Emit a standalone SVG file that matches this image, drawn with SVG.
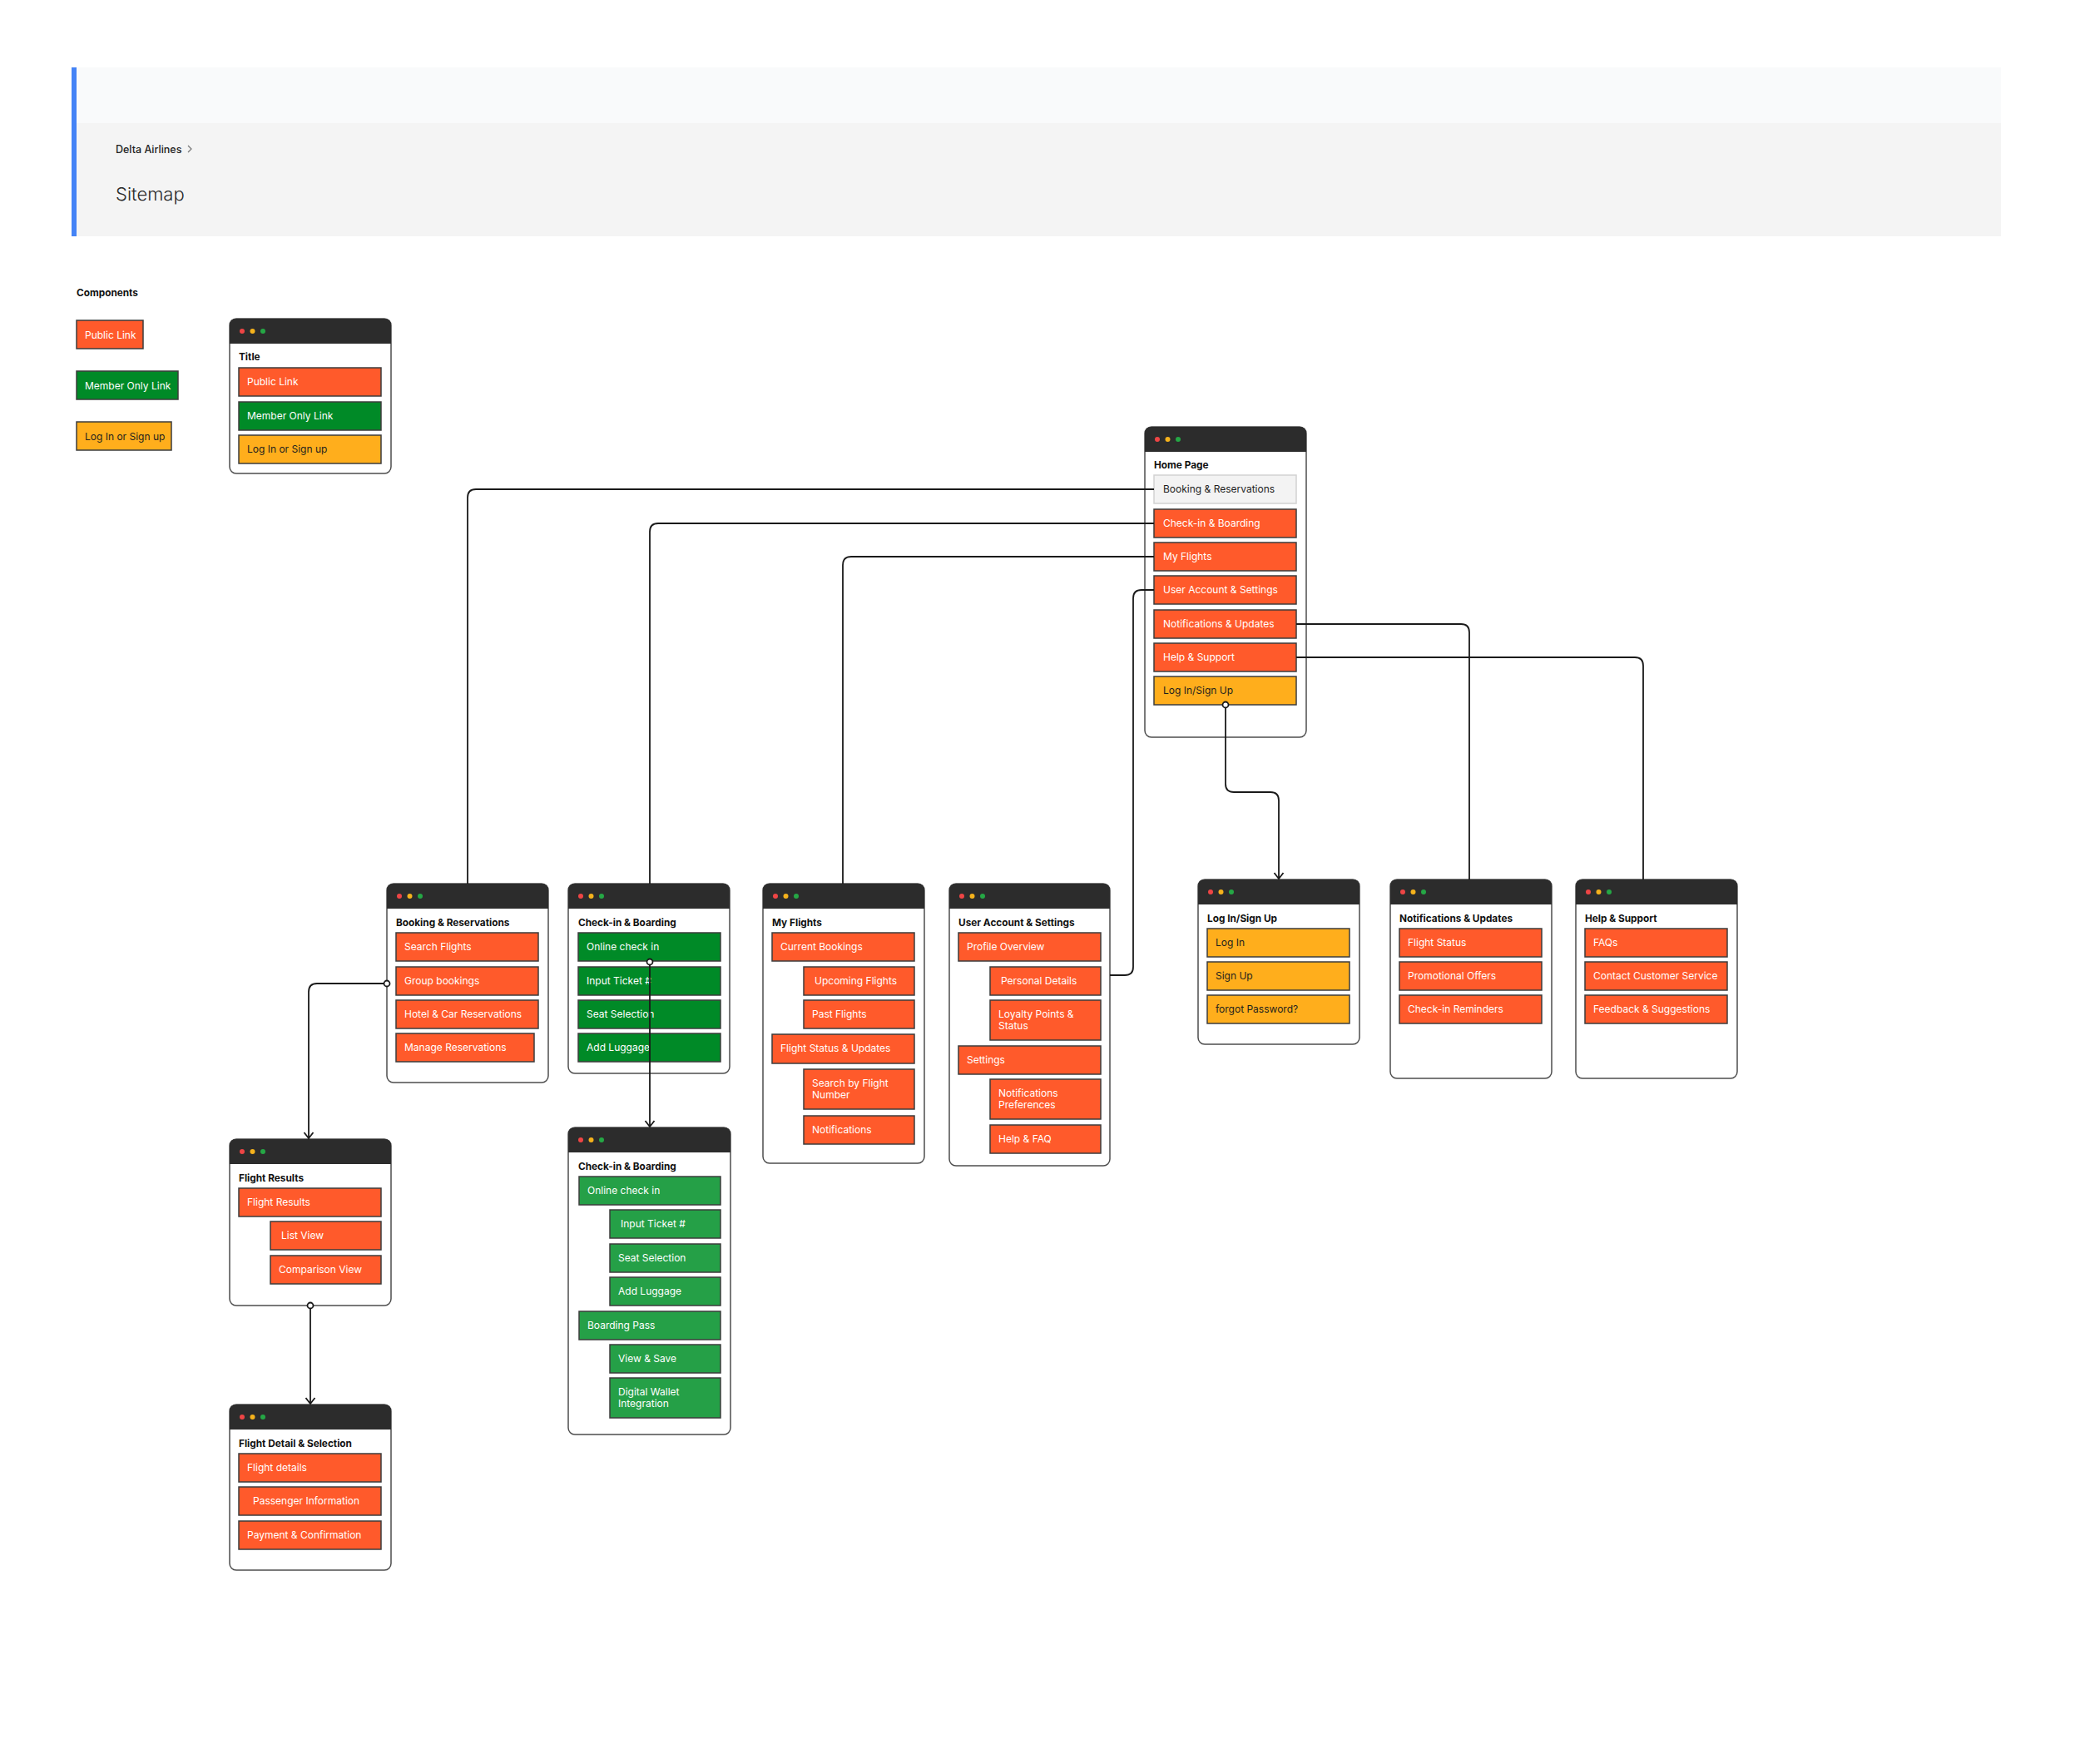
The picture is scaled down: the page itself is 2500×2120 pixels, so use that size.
<svg xmlns="http://www.w3.org/2000/svg" xmlns:xlink="http://www.w3.org/1999/xlink" width="2500" height="2120" viewBox="0 0 2500 2120">
<style>
.win{fill:#fff;stroke:#4d4d4d;stroke-width:1.5}
.hdr{fill:#2c2c2c}
.o{fill:#ff5a2b;stroke:#3c3c3c;stroke-width:1.5}
.g{fill:#008a27;stroke:#3c3c3c;stroke-width:1.5}
.g2{fill:#25a047;stroke:#3c3c3c;stroke-width:1.5}
.y{fill:#ffae1c;stroke:#3c3c3c;stroke-width:1.5}
.gr{fill:#f3f3f3;stroke:#d2d2d2;stroke-width:1.5}
text{font-family:Inter,"Liberation Sans",sans-serif}
.t{font-size:12px;fill:#fff}
.td{font-size:12px;fill:#1e1e1e}
.ttl{font-size:11.8px;font-weight:700;fill:#111}
.c{fill:none;stroke:#1a1a1a;stroke-width:1.8}
.dot{fill:#fff;stroke:#1a1a1a;stroke-width:1.8}
</style>
<defs>
<g id="dots"><circle cx="15" cy="15" r="3" fill="#ee4545"/><circle cx="27.5" cy="15" r="3" fill="#f5b21c"/><circle cx="40" cy="15" r="3" fill="#25a745"/></g>
<path id="hd" class="hdr" d="M0,30 V8 Q0,0 8,0 H186 Q194,0 194,8 V30 Z"/>
<marker id="arr" viewBox="-10 -7 12 14" refX="0" refY="0" markerWidth="12" markerHeight="14" markerUnits="userSpaceOnUse" orient="auto"><path d="M-7,-5.5 L0,0 L-7,5.5" fill="none" stroke="#1a1a1a" stroke-width="1.8"/></marker>
</defs>
<rect width="2500" height="2120" fill="#fff"/>
<!-- Header -->
<g id="header">
<rect x="86" y="81" width="2319" height="67" fill="#f9fafb"/>
<rect x="86" y="148" width="2319" height="136" fill="#f4f4f4"/>
<rect x="86" y="81" width="6" height="203" fill="#4483f6"/>
<text x="139" y="184" font-size="12.5" font-weight="500" fill="#1e1e1e">Delta Airlines</text>
<polyline points="226,175 230,179 226,183" fill="none" stroke="#777" stroke-width="1.2"/>
<text x="139" y="241" font-size="22" font-weight="300" fill="#2a2a2a">Sitemap</text>
</g>
<!-- Legend -->
<g id="legend">
<text x="92" y="356" class="ttl" font-size="11">Components</text>
<rect x="92" y="385" width="80" height="34" class="o"/><text x="102" y="407" class="t">Public Link</text>
<rect x="92" y="446" width="122" height="34" class="g"/><text x="102" y="468" class="t">Member Only Link</text>
<rect x="92" y="507" width="114" height="34" class="y"/><text x="102" y="529" class="td">Log In or Sign up</text>
</g>
<g id="legend-window" transform="translate(276,383)">
<rect width="194" height="186" rx="8" class="win"/><use href="#hd"/><use href="#dots"/>
<text x="11" y="50" class="ttl">Title</text>
<rect x="11" y="59" width="171" height="34" class="o"/><text x="21" y="80" class="t">Public Link</text>
<rect x="11" y="100" width="171" height="34" class="g"/><text x="21" y="121" class="t">Member Only Link</text>
<rect x="11" y="140" width="171" height="34" class="y"/><text x="21" y="161" class="td">Log In or Sign up</text>
</g>
<!-- Home -->
<g id="home" transform="translate(1376,513)">
<rect width="194" height="373" rx="8" class="win"/><use href="#hd"/><use href="#dots"/>
<text x="11" y="50" class="ttl">Home Page</text>
<rect x="11" y="58" width="171" height="34" class="gr"/><text x="22" y="79" class="td">Booking &amp; Reservations</text>
<rect x="11" y="99" width="171" height="34" class="o"/><text x="22" y="120" class="t">Check-in &amp; Boarding</text>
<rect x="11" y="139" width="171" height="34" class="o"/><text x="22" y="160" class="t">My Flights</text>
<rect x="11" y="179" width="171" height="34" class="o"/><text x="22" y="200" class="t">User Account &amp; Settings</text>
<rect x="11" y="220" width="171" height="34" class="o"/><text x="22" y="241" class="t">Notifications &amp; Updates</text>
<rect x="11" y="260" width="171" height="34" class="o"/><text x="22" y="281" class="t">Help &amp; Support</text>
<rect x="11" y="300" width="171" height="34" class="y"/><text x="22" y="321" class="td">Log In/Sign Up</text>
</g>
<!-- Booking -->
<g id="booking" transform="translate(465,1062)">
<rect width="194" height="239" rx="8" class="win"/><use href="#hd"/><use href="#dots"/>
<text x="11" y="51" class="ttl">Booking &amp; Reservations</text>
<rect x="11" y="59" width="171" height="34" class="o"/><text x="21" y="80" class="t">Search Flights</text>
<rect x="11" y="100" width="171" height="34" class="o"/><text x="21" y="121" class="t">Group bookings</text>
<rect x="11" y="140" width="171" height="34" class="o"/><text x="21" y="161" class="t">Hotel &amp; Car Reservations</text>
<rect x="11" y="180" width="166" height="34" class="o"/><text x="21" y="201" class="t">Manage Reservations</text>
</g>
<!-- Check-in 1 -->
<g id="checkin" transform="translate(683,1062)">
<rect width="194" height="228" rx="8" class="win"/><use href="#hd"/><use href="#dots"/>
<text x="12" y="51" class="ttl">Check-in &amp; Boarding</text>
<rect x="12" y="59" width="171" height="34" class="g"/><text x="22" y="80" class="t">Online check in</text>
<rect x="12" y="100" width="171" height="34" class="g"/><text x="22" y="121" class="t">Input Ticket #</text>
<rect x="12" y="140" width="171" height="34" class="g"/><text x="22" y="161" class="t">Seat Selection</text>
<rect x="12" y="180" width="171" height="34" class="g"/><text x="22" y="201" class="t">Add Luggage</text>
</g>
<!-- My Flights -->
<g id="myflights" transform="translate(917,1062)">
<rect width="194" height="336" rx="8" class="win"/><use href="#hd"/><use href="#dots"/>
<text x="11" y="51" class="ttl">My Flights</text>
<rect x="11" y="59" width="171" height="34" class="o"/><text x="21" y="80" class="t">Current Bookings</text>
<rect x="49" y="100" width="133" height="34" class="o"/><text x="62" y="121" class="t">Upcoming Flights</text>
<rect x="49" y="140" width="133" height="34" class="o"/><text x="59" y="161" class="t">Past Flights</text>
<rect x="11" y="181" width="171" height="35" class="o"/><text x="21" y="202" class="t">Flight Status &amp; Updates</text>
<rect x="49" y="223" width="133" height="48" class="o"/><text x="59" y="244" class="t">Search by Flight</text><text x="59" y="258" class="t">Number</text>
<rect x="49" y="279" width="133" height="34" class="o"/><text x="59" y="300" class="t">Notifications</text>
</g>
<!-- User Account -->
<g id="useraccount" transform="translate(1141,1062)">
<rect width="193" height="339" rx="8" class="win"/><path class="hdr" d="M0,30 V8 Q0,0 8,0 H185 Q193,0 193,8 V30 Z"/><use href="#dots"/>
<text x="11" y="51" class="ttl">User Account &amp; Settings</text>
<rect x="11" y="59" width="171" height="34" class="o"/><text x="21" y="80" class="t">Profile Overview</text>
<rect x="49" y="100" width="133" height="34" class="o"/><text x="62" y="121" class="t">Personal Details</text>
<rect x="49" y="140" width="133" height="48" class="o"/><text x="59" y="161" class="t">Loyalty Points &amp;</text><text x="59" y="175" class="t">Status</text>
<rect x="11" y="195" width="171" height="34" class="o"/><text x="21" y="216" class="t">Settings</text>
<rect x="49" y="235" width="133" height="48" class="o"/><text x="59" y="256" class="t">Notifications</text><text x="59" y="270" class="t">Preferences</text>
<rect x="49" y="290" width="133" height="34" class="o"/><text x="59" y="311" class="t">Help &amp; FAQ</text>
</g>
<!-- Log In -->
<g id="login" transform="translate(1440,1057)">
<rect width="194" height="198" rx="8" class="win"/><use href="#hd"/><use href="#dots"/>
<text x="11" y="51" class="ttl">Log In/Sign Up</text>
<rect x="11" y="59" width="171" height="34" class="y"/><text x="21" y="80" class="td">Log In</text>
<rect x="11" y="99" width="171" height="34" class="y"/><text x="21" y="120" class="td">Sign Up</text>
<rect x="11" y="139" width="171" height="34" class="y"/><text x="21" y="160" class="td">forgot Password?</text>
</g>
<!-- Notifications -->
<g id="notifications" transform="translate(1671,1057)">
<rect width="194" height="239" rx="8" class="win"/><use href="#hd"/><use href="#dots"/>
<text x="11" y="51" class="ttl">Notifications &amp; Updates</text>
<rect x="11" y="59" width="171" height="34" class="o"/><text x="21" y="80" class="t">Flight Status</text>
<rect x="11" y="99" width="171" height="34" class="o"/><text x="21" y="120" class="t">Promotional Offers</text>
<rect x="11" y="139" width="171" height="34" class="o"/><text x="21" y="160" class="t">Check-in Reminders</text>
</g>
<!-- Help -->
<g id="help" transform="translate(1894,1057)">
<rect width="194" height="239" rx="8" class="win"/><use href="#hd"/><use href="#dots"/>
<text x="11" y="51" class="ttl">Help &amp; Support</text>
<rect x="11" y="59" width="171" height="34" class="o"/><text x="21" y="80" class="t">FAQs</text>
<rect x="11" y="99" width="171" height="34" class="o"/><text x="21" y="120" class="t">Contact Customer Service</text>
<rect x="11" y="139" width="171" height="34" class="o"/><text x="21" y="160" class="t">Feedback &amp; Suggestions</text>
</g>
<!-- Flight Results -->
<g id="flightresults" transform="translate(276,1369)">
<rect width="194" height="200" rx="8" class="win"/><use href="#hd"/><use href="#dots"/>
<text x="11" y="51" class="ttl">Flight Results</text>
<rect x="11" y="59" width="171" height="34" class="o"/><text x="21" y="80" class="t">Flight Results</text>
<rect x="49" y="99" width="133" height="34" class="o"/><text x="62" y="120" class="t">List View</text>
<rect x="49" y="140" width="133" height="34" class="o"/><text x="59" y="161" class="t">Comparison View</text>
</g>
<!-- Flight Detail -->
<g id="flightdetail" transform="translate(276,1688)">
<rect width="194" height="199" rx="8" class="win"/><use href="#hd"/><use href="#dots"/>
<text x="11" y="51" class="ttl">Flight Detail &amp; Selection</text>
<rect x="11" y="59" width="171" height="34" class="o"/><text x="21" y="80" class="t">Flight details</text>
<rect x="11" y="99" width="171" height="34" class="o"/><text x="28" y="120" class="t">Passenger Information</text>
<rect x="11" y="140" width="171" height="34" class="o"/><text x="21" y="161" class="t">Payment &amp; Confirmation</text>
</g>
<!-- Check-in 2 -->
<g id="checkin2" transform="translate(683,1355)">
<rect width="195" height="369" rx="8" class="win"/><path class="hdr" d="M0,30 V8 Q0,0 8,0 H187 Q195,0 195,8 V30 Z"/><use href="#dots"/>
<text x="12" y="51" class="ttl">Check-in &amp; Boarding</text>
<rect x="13" y="59" width="170" height="34" class="g2"/><text x="23" y="80" class="t">Online check in</text>
<rect x="50" y="99" width="133" height="34" class="g2"/><text x="63" y="120" class="t">Input Ticket #</text>
<rect x="50" y="140" width="133" height="34" class="g2"/><text x="60" y="161" class="t">Seat Selection</text>
<rect x="50" y="180" width="133" height="34" class="g2"/><text x="60" y="201" class="t">Add Luggage</text>
<rect x="13" y="221" width="170" height="34" class="g2"/><text x="23" y="242" class="t">Boarding Pass</text>
<rect x="50" y="261" width="133" height="34" class="g2"/><text x="60" y="282" class="t">View &amp; Save</text>
<rect x="50" y="301" width="133" height="48" class="g2"/><text x="60" y="322" class="t">Digital Wallet</text><text x="60" y="336" class="t">Integration</text>
</g>
<!-- Connectors -->
<g id="connectors">
<path class="c" d="M1387,588 H572 Q562,588 562,598 V1062"/>
<path class="c" d="M1387,629 H791 Q781,629 781,639 V1062"/>
<path class="c" d="M1387,669 H1023 Q1013,669 1013,679 V1062"/>
<path class="c" d="M1387,709 H1372 Q1362,709 1362,719 V1162 Q1362,1172 1352,1172 H1334"/>
<path class="c" d="M1558,750 H1756 Q1766,750 1766,760 V1057"/>
<path class="c" d="M1558,790 H1965 Q1975,790 1975,800 V1057"/>
<path class="c" d="M1473,847 V942 Q1473,952 1483,952 H1527 Q1537,952 1537,962 V1056" marker-end="url(#arr)"/>
<circle class="dot" cx="1473" cy="847" r="3.5"/>
<path class="c" d="M465,1182 H381 Q371,1182 371,1192 V1368" marker-end="url(#arr)"/>
<circle class="dot" cx="465" cy="1182" r="3.5"/>
<path class="c" d="M373,1569 V1687" marker-end="url(#arr)"/>
<circle class="dot" cx="373" cy="1569" r="3.5"/>
<path class="c" d="M781,1156 V1354" marker-end="url(#arr)"/>
<circle class="dot" cx="781" cy="1156" r="3.5"/>
</g>
</svg>
